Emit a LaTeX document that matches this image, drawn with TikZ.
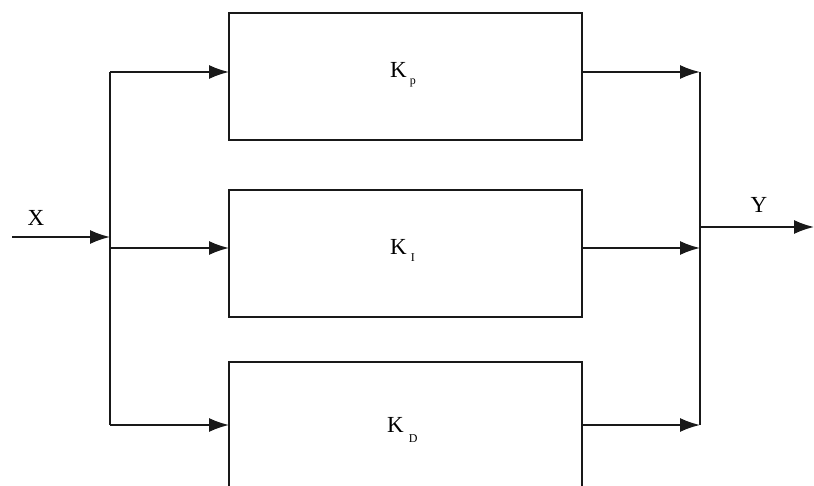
\documentclass[tikz,border=0pt]{standalone}
\usepackage{fontspec}
\setmainfont{Liberation Serif}
\usetikzlibrary{arrows.meta}
\begin{document}
\begin{tikzpicture}[x=1pt,y=-1pt,
  line/.style={line width=1.7pt,draw=black!90},
  arr/.style={line,-{Latex[length=20pt,width=14pt]}},
  blk/.style={line,fill=none},
  lbl/.style={font=\fontsize{23}{25}\selectfont,inner sep=0pt},
  klbl/.style={lbl,anchor=base west}]
\newcommand{\subk}[2]{\raisebox{#2}{\fontsize{12}{12}\selectfont #1}}
\useasboundingbox (0,0) rectangle (814,486);
\begin{scope}
\clip (0,0) rectangle (814,486);
\draw[blk] (229,13) rectangle (582,140);
\draw[blk] (229,190) rectangle (582,317);
\draw[blk] (229,362) rectangle (582,500);
\end{scope}
\coordinate (bp) at (229,72);
\coordinate (bi) at (229,248);
\coordinate (bd) at (229,425);
\coordinate (op) at (582,72);
\coordinate (oi) at (582,248);
\coordinate (od) at (582,425);
\coordinate (jin) at (110,237);
\coordinate (jt) at (110,72);
\coordinate (jm) at (110,248);
\coordinate (jb) at (110,425);
\coordinate (xin) at (12,237);
\coordinate (st) at (700,72);
\coordinate (sm) at (700,248);
\coordinate (sb) at (700,425);
\coordinate (sy) at (700,227);
\coordinate (yout) at (814,227);
\node[klbl] (kp) at (390,78) {K\kern3pt\subk{p}{-7pt}};
\node[klbl] (ki) at (390,255) {K\kern4pt\subk{I}{-7pt}};
\node[klbl] (kd) at (387,432) {K\kern5pt\subk{D}{-10pt}};
\node[lbl] (xl) at (36,218) {X};
\node[lbl] (yl) at (759,205) {Y};
\draw[arr] (xin) -- (jin);
\draw[line] (jt) -- (jb);
\draw[arr] (jt) -- (bp);
\draw[arr] (jm) -- (bi);
\draw[arr] (jb) -- (bd);
\draw[arr] (op) -- (st);
\draw[arr] (oi) -- (sm);
\draw[arr] (od) -- (sb);
\draw[line] (st) -- (sb);
\draw[arr] (sy) -- (yout);
\end{tikzpicture}
\end{document}
